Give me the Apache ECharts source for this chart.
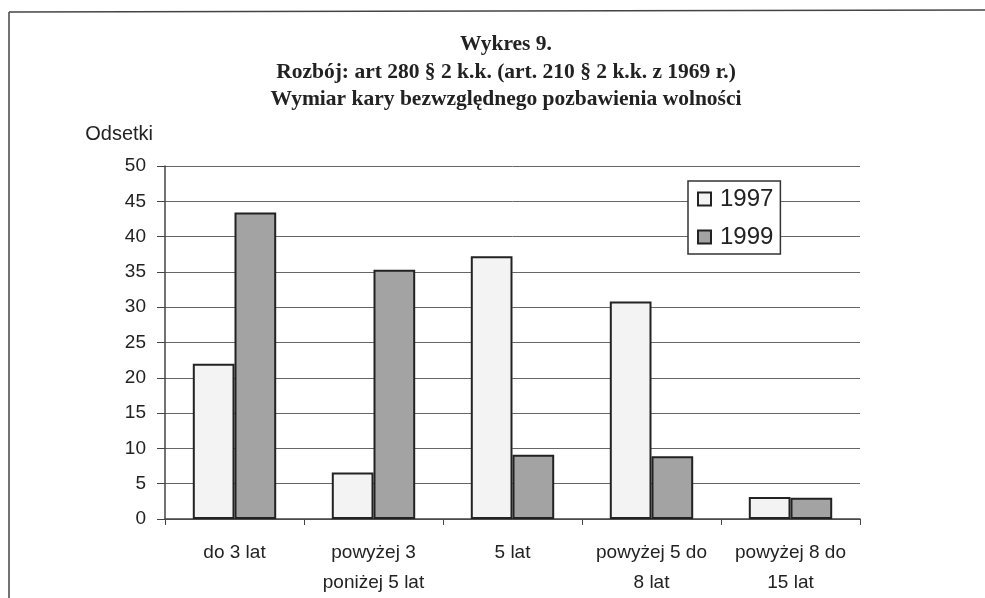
<!DOCTYPE html>
<html><head><meta charset="utf-8">
<script src="https://cdn.jsdelivr.net/npm/echarts@6/dist/echarts.min.js"></script>
<style>html,body{margin:0;padding:0;background:#fff}#c{width:985px;height:598px}</style>
</head><body><div id="c"></div>
<script>
const categories = ['do 3 lat', 'powyżej 3\nponiżej 5 lat', '5 lat', 'powyżej 5 do\n8 lat', 'powyżej 8 do\n15 lat'];
const values1997 = [22.0, 6.6, 37.2, 30.8, 3.1];
const values1999 = [43.4, 35.3, 9.1, 8.9, 3.0];
const seriesNames = ['1997', '1999'];
const titleLines = ['Wykres 9.', 'Rozbój: art 280 § 2 k.k. (art. 210 § 2 k.k. z 1969 r.)', 'Wymiar kary bezwzględnego pozbawienia wolności'];
const yName = 'Odsetki';

const chart = echarts.init(document.getElementById('c'), null, {renderer: 'canvas'});
const sans = 'Liberation Sans';
chart.setOption({
  animation: false,
  backgroundColor: '#fff',
  title: {
    text: titleLines.join('\n'),
    left: 501, top: 26, textAlign: 'center',
    textStyle: {fontFamily: 'Liberation Serif', fontWeight: 'bold', fontSize: 21.5, lineHeight: 27.5, color: '#222'}
  },
  grid: {left: 165, right: 125, top: 166, bottom: 78, containLabel: false},
  legend: {
    orient: 'vertical', left: 688, top: 181,
    data: seriesNames,
    icon: 'rect', itemWidth: 13, itemHeight: 13, itemGap: 14,
    padding: [6, 7, 5, 9],
    borderColor: '#333', borderWidth: 1.5, backgroundColor: '#fff',
    textStyle: {fontFamily: sans, fontSize: 24, color: '#222', padding: [0, 0, 0, 4]}
  },
  xAxis: {
    type: 'category', data: categories,
    axisLine: {lineStyle: {color: '#444', width: 1.5}},
    axisTick: {show: true, length: 6, lineStyle: {color: '#444'}},
    axisLabel: {fontFamily: sans, fontSize: 19, color: '#222', lineHeight: 30, margin: 19, interval: 0}
  },
  yAxis: {
    type: 'value', min: 0, max: 50, interval: 5,
    name: yName, nameLocation: 'end', nameGap: 22,
    nameTextStyle: {fontFamily: sans, fontSize: 20, color: '#222', align: 'right', padding: [0, 12, 0, 0]},
    axisLine: {show: true, lineStyle: {color: '#444', width: 1.5}},
    axisTick: {show: true, length: 8, lineStyle: {color: '#444'}},
    axisLabel: {fontFamily: sans, fontSize: 19, color: '#222', margin: 19},
    splitLine: {show: true, lineStyle: {color: '#666', width: 1}}
  },
  series: [
    {name: seriesNames[0], type: 'bar', data: values1997, barGap: '0%', barCategoryGap: '40%',
     itemStyle: {color: '#f3f3f3', borderColor: '#222', borderWidth: 2}},
    {name: seriesNames[1], type: 'bar', data: values1999, barGap: '0%', barCategoryGap: '40%',
     itemStyle: {color: '#a3a3a3', borderColor: '#222', borderWidth: 2}}
  ],
  graphic: [
    {type: 'line', shape: {x1: 9, y1: 12, x2: 985, y2: 10}, style: {stroke: '#444', lineWidth: 1.5}},
    {type: 'line', shape: {x1: 9, y1: 12, x2: 9, y2: 598}, style: {stroke: '#444', lineWidth: 1.5}}
  ]
});
</script></body></html>
